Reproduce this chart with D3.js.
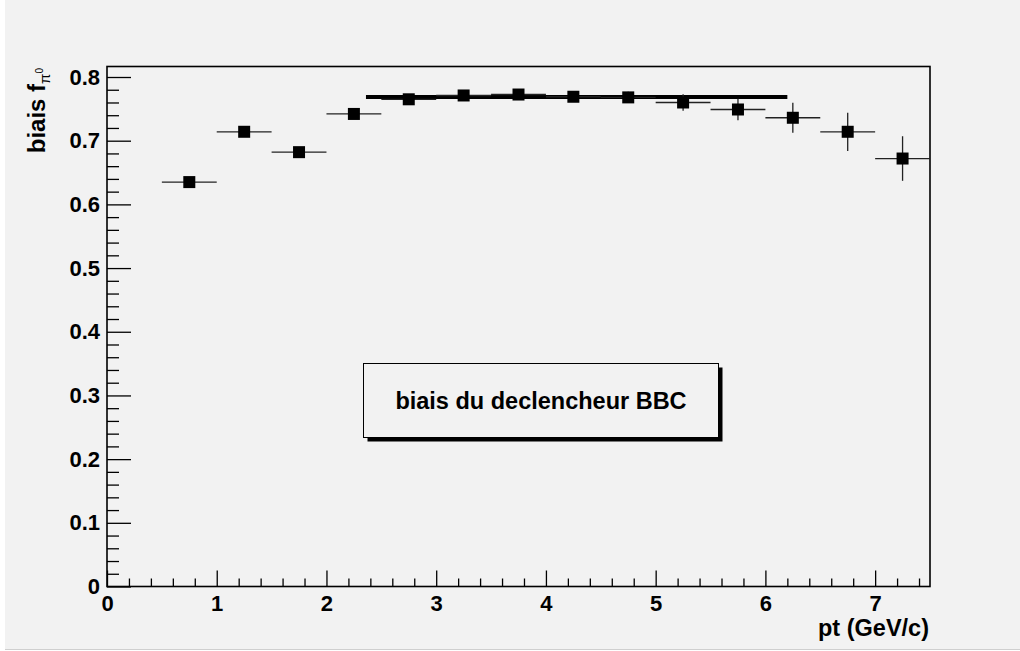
<!DOCTYPE html>
<html>
<head>
<meta charset="utf-8">
<script src="https://cdn.jsdelivr.net/npm/d3@7"></script>
<style>
  html, body { margin: 0; padding: 0; background: #ffffff; }
  svg { display: block; }
  text { font-family: "Liberation Sans", Arial, Helvetica, sans-serif; font-weight: bold; fill: #000; }
</style>
</head>
<body>
<svg id="chart" width="1020" height="651"></svg>
<script>
// Bin centres (pt, GeV/c) and half bin width
const ptBins = [0.75, 1.25, 1.75, 2.25, 2.75, 3.25, 3.75, 4.25, 4.75, 5.25, 5.75, 6.25, 6.75, 7.25];
const binHalfWidth = 0.25;
// Trigger bias per bin and its statistical error
const biasValues = [0.635, 0.714, 0.682, 0.742, 0.765, 0.771, 0.7725, 0.769, 0.768, 0.760, 0.749, 0.736, 0.714, 0.672];
const biasErrors = [0.003, 0.004, 0.004, 0.004, 0.005, 0.005, 0.005, 0.006, 0.009, 0.013, 0.017, 0.0235, 0.030, 0.035];
// Constant fit over the plateau
const fitRange = [2.36, 6.2];
const fitValue = 0.7688;
// Axis ticks
const xMajorTicks = [0, 1, 2, 3, 4, 5, 6, 7];
const yMajorTicks = [0, 0.1, 0.2, 0.3, 0.4, 0.5, 0.6, 0.7, 0.8];
const xDomain = [0, 7.5];
const yDomain = [0, 0.8165];

const svg = d3.select("#chart");
const W = 1020, H = 651;

// canvas background
svg.append("rect").attr("x", 5).attr("y", 0).attr("width", W - 5).attr("height", 649).attr("fill", "#f2f2f2");
svg.append("line").attr("x1", 5).attr("x2", W).attr("y1", 649.5).attr("y2", 649.5).attr("stroke", "#cfcfcf");

const frame = { left: 107, right: 930, top: 66.5, bottom: 586.5 };
const x = d3.scaleLinear().domain(xDomain).range([frame.left, frame.right]);
const y = d3.scaleLinear().domain(yDomain).range([frame.bottom, frame.top]);

// minor ticks (5 divisions per major interval)
const xMinor = d3.range(0, 7.5 + 1e-9, 0.2).map(v => +v.toFixed(2)).filter(v => Math.abs(v - Math.round(v)) > 1e-6);
const yMinor = d3.range(0, 0.8165, 0.02).map(v => +v.toFixed(3)).filter(v => Math.abs(v * 10 - Math.round(v * 10)) > 1e-6);

const fmtY = d => d === 0 ? "0" : d3.format(".1f")(d);

// x axis
svg.append("g").attr("transform", `translate(0,${frame.bottom})`)
  .call(d3.axisBottom(x).tickValues(xMinor).tickSize(-8).tickFormat(""))
  .call(g => g.select(".domain").remove())
  .call(g => g.selectAll("line").attr("stroke", "#000").attr("stroke-width", 1.3));
svg.append("g").attr("transform", `translate(0,${frame.bottom})`)
  .call(d3.axisBottom(x).tickValues(xMajorTicks).tickSize(-16).tickPadding(8.5).tickFormat(d3.format("d")))
  .call(g => g.select(".domain").remove())
  .call(g => g.selectAll("line").attr("stroke", "#000").attr("stroke-width", 1.3))
  .call(g => g.selectAll("text").attr("font-size", 22).attr("font-family", null));

// y axis
svg.append("g").attr("transform", `translate(${frame.left},0)`)
  .call(d3.axisLeft(y).tickValues(yMinor).tickSize(-12).tickFormat(""))
  .call(g => g.select(".domain").remove())
  .call(g => g.selectAll("line").attr("stroke", "#000").attr("stroke-width", 1.3));
svg.append("g").attr("transform", `translate(${frame.left},0)`)
  .call(d3.axisLeft(y).tickValues(yMajorTicks).tickSize(-24).tickPadding(7).tickFormat(fmtY))
  .call(g => g.select(".domain").remove())
  .call(g => g.selectAll("line").attr("stroke", "#000").attr("stroke-width", 1.3))
  .call(g => g.selectAll("text").attr("font-size", 22).attr("font-family", null));

// frame
svg.append("rect")
  .attr("x", frame.left).attr("y", frame.top)
  .attr("width", frame.right - frame.left).attr("height", frame.bottom - frame.top)
  .attr("fill", "none").attr("stroke", "#000").attr("stroke-width", 1.6);

// axis titles
svg.append("text")
  .attr("x", 929).attr("y", 636)
  .attr("text-anchor", "end").attr("font-size", 23.5)
  .text("pt (GeV/c)");

const yt = svg.append("text")
  .attr("transform", "translate(45,68) rotate(-90)")
  .attr("text-anchor", "end").attr("font-size", 24);
yt.append("tspan").text("biais f");
yt.append("tspan").attr("font-size", 15).attr("font-weight", "normal").attr("dy", 5).text("π");
yt.append("tspan").attr("font-size", 10).attr("font-weight", "normal").attr("dy", -7).text("0");

// constant fit
svg.append("line")
  .attr("x1", x(fitRange[0])).attr("x2", x(fitRange[1]))
  .attr("y1", y(fitValue)).attr("y2", y(fitValue))
  .attr("stroke", "#000").attr("stroke-width", 4);

// data points with error bars
const pts = ptBins.map((p, i) => ({ p, v: biasValues[i], e: biasErrors[i] }));
const gp = svg.append("g");
gp.selectAll("line.h").data(pts).join("line").attr("class", "h")
  .attr("x1", d => x(d.p - binHalfWidth)).attr("x2", d => x(d.p + binHalfWidth))
  .attr("y1", d => y(d.v)).attr("y2", d => y(d.v))
  .attr("stroke", "#222").attr("stroke-width", 1.3);
gp.selectAll("line.v").data(pts).join("line").attr("class", "v")
  .attr("x1", d => x(d.p)).attr("x2", d => x(d.p))
  .attr("y1", d => y(d.v - d.e)).attr("y2", d => y(d.v + d.e))
  .attr("stroke", "#222").attr("stroke-width", 1.3);
gp.selectAll("rect").data(pts).join("rect")
  .attr("x", d => x(d.p) - 6).attr("y", d => y(d.v) - 6)
  .attr("width", 12).attr("height", 12)
  .attr("fill", "#000");

// label box with shadow
const box = { x: 363.5, y: 363.5, w: 355, h: 74 };
svg.append("rect").attr("x", box.x + 4).attr("y", box.y + 4).attr("width", box.w).attr("height", box.h).attr("fill", "#000");
svg.append("rect").attr("x", box.x).attr("y", box.y).attr("width", box.w).attr("height", box.h)
  .attr("fill", "#f2f2f2").attr("stroke", "#000").attr("stroke-width", 1);
svg.append("text")
  .attr("x", box.x + box.w / 2).attr("y", 408.5)
  .attr("text-anchor", "middle").attr("font-size", 23.5)
  .text("biais du declencheur BBC");
</script>
</body>
</html>
